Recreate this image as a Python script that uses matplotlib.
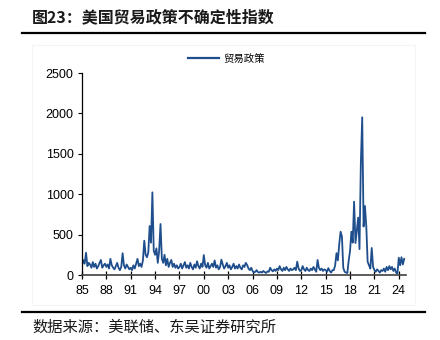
import matplotlib
matplotlib.use("Agg")
import matplotlib.pyplot as plt
import matplotlib.dates as mdates
from matplotlib.lines import Line2D
from matplotlib.patches import Rectangle
import pandas as pd

plt.rcParams['font.family'] = ['Liberation Sans', 'Noto Sans CJK SC', 'DejaVu Sans']

title = "图23：美国贸易政策不确定性指数"
source = "数据来源：美联储、东吴证券研究所"
series_name = "贸易政策"
start_date = "1985-01-01"

# bi-monthly readings of the trade policy uncertainty index (Jan, Mar, May, Jul, Sep, Nov)
tpu = [
    120, 186, 140, 276, 110, 150,   # 1985
    130, 90, 160, 100, 140, 80,     # 1986
    110, 150, 186, 90, 120, 140,    # 1987
    100, 130, 80, 200, 120, 90,     # 1988
    70, 110, 150, 90, 60, 100,      # 1989
    270, 120, 80, 130, 100, 70,     # 1990
    90, 60, 120, 80, 140, 200,      # 1991
    110, 140, 100, 180, 425, 250,   # 1992
    220, 280, 606, 400, 1023, 300,  # 1993
    250, 330, 150, 300, 631, 200,   # 1994
    150, 250, 120, 200, 100, 150,   # 1995
    186, 100, 140, 90, 120, 80,     # 1996
    100, 140, 80, 120, 160, 90,     # 1997
    120, 80, 150, 100, 70, 130,     # 1998
    90, 170, 110, 80, 140, 100,     # 1999
    247, 120, 90, 150, 80, 110,     # 2000
    140, 100, 180, 90, 120, 70,     # 2001
    100, 190, 130, 80, 110, 150,    # 2002
    90, 120, 70, 100, 140, 80,      # 2003
    110, 80, 130, 90, 70, 120,      # 2004
    100, 150, 124, 80, 60, 90,      # 2005
    50, 30, 40, 60, 35, 30,         # 2006
    40, 30, 50, 35, 25, 45,         # 2007
    40, 90, 60, 45, 70, 50,         # 2008
    80, 60, 110, 70, 50, 90,        # 2009
    60, 100, 70, 50, 80, 60,        # 2010
    70, 90, 60, 165, 80, 50,        # 2011
    60, 110, 70, 50, 90, 60,        # 2012
    50, 80, 60, 100, 70, 40,        # 2013
    186, 90, 60, 80, 50, 70,        # 2014
    60, 40, 85, 50, 30, 60,         # 2015
    60, 120, 270, 180, 380, 536,    # 2016
    475, 90, 40, 30, 25, 180,       # 2017
    300, 536, 400, 907, 396, 550,   # 2018
    710, 320, 1386, 1952, 600, 854, # 2019
    600, 165, 120, 80, 334, 100,    # 2020
    60, 40, 70, 50, 30, 60,         # 2021
    50, 80, 40, 100, 60, 110,       # 2022
    70, 100, 50, 80, 30, 20,        # 2023
    214, 120, 220, 130, 200,        # 2024
]
yticks = [0, 500, 1000, 1500, 2000, 2500]
xtick_years = list(range(1985, 2025, 3))

dates = pd.date_range(start_date, periods=len(tpu), freq="2MS")

fig = plt.figure(figsize=(4.4, 3.4), dpi=100)
ax = fig.add_axes([82/440, 1-275/340, (406-82)/440, (275-73)/340])

line, = ax.plot(dates, tpu, color="#1f4e8c", lw=1.3, label=series_name)

ax.set_ylim(0, 2500)
ax.set_yticks(yticks)
ax.set_xlim(pd.Timestamp("1985-01-01"), pd.Timestamp("2024-11-20"))
ax.set_xticks([pd.Timestamp(f"{y}-01-01") for y in xtick_years])
ax.xaxis.set_major_formatter(mdates.DateFormatter("%y"))

for s in ["top", "right"]:
    ax.spines[s].set_visible(False)
ax.spines["left"].set_color("black")
ax.spines["left"].set_linewidth(0.9)
ax.spines["bottom"].set_color("#404040")
ax.spines["bottom"].set_linewidth(1.2)
ax.tick_params(axis="y", direction="out", length=3, width=0.8, labelsize=9, pad=3)
ax.tick_params(axis="x", direction="inout", length=6, width=0.9, labelsize=9, pad=4.5)

leg = fig.legend(handles=[line], loc="center", bbox_to_anchor=(226/440, 1-59/340),
                 frameon=False, handlelength=3.0, handletextpad=0.4,
                 prop={'family': ['Noto Sans CJK SC'], 'size': 7.5})
for h in leg.get_lines():
    h.set_linewidth(1.6)

# faint chart frame
fig.add_artist(Rectangle((32/440, 1-305/340), (415-32)/440, (305-45)/340,
                         transform=fig.transFigure, fill=False, ec="#f4f4f4", lw=0.8))

fig.text(32/440, 1-17/340, title, fontsize=11.5, fontweight="bold", color="#1a1a1a",
         va="center", ha="left", family=['Noto Sans CJK SC', 'DejaVu Sans'])
fig.add_artist(Line2D([22/440, 425/440], [1-33/340, 1-33/340], transform=fig.transFigure,
                      color="black", lw=1.6))
fig.add_artist(Line2D([22/440, 425/440], [1-312/340, 1-312/340], transform=fig.transFigure,
                      color="black", lw=1.6))
fig.text(32/440, 1-327/340, source, fontsize=11, color="#1a1a1a",
         va="center", ha="left", family=['Noto Sans CJK SC', 'DejaVu Sans'])

fig.savefig("out.png", dpi=100)
